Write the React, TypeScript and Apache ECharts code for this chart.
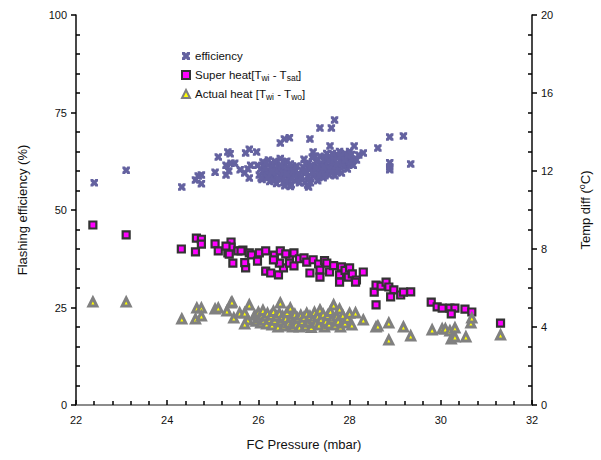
import React, { useEffect, useRef } from "react";
import * as echarts from "echarts";

const xTicks = { min: 22, max: 32, interval: 2 };
const leftTicks = { min: 0, max: 100, interval: 25 };
const rightTicks = { min: 0, max: 20, interval: 4 };

const efficiency: number[][] = [
  [22.4, 57.0], [23.1, 60.2],
  [24.32, 55.9], [24.62, 57.7], [24.68, 58.7], [24.75, 59.0], [24.75, 56.7], [25.05, 59.7], [25.12, 63.6],
  [25.33, 64.9], [25.38, 64.4], [25.29, 61.5], [25.29, 59.0], [25.35, 60.0], [25.4, 62.0], [25.48, 62.0],
  [25.6, 60.3], [25.7, 59.5], [25.77, 60.5], [25.72, 64.6], [25.8, 65.6], [25.96, 64.9], [25.83, 61.5],
  [25.8, 58.2], [25.98, 61.5],
  [26.02, 59.0], [26.05, 60.5], [26.08, 57.8], [26.1, 62.3], [26.12, 59.8], [26.15, 61.0], [26.18, 58.5],
  [26.2, 60.0], [26.22, 62.8], [26.25, 57.3], [26.27, 59.2], [26.3, 61.5], [26.32, 58.0], [26.35, 60.3],
  [26.38, 62.0], [26.4, 56.8], [26.42, 59.5], [26.45, 61.0], [26.48, 63.2], [26.5, 58.3], [26.52, 60.0],
  [26.55, 57.0], [26.57, 61.8], [26.6, 59.0], [26.62, 62.5], [26.65, 57.8], [26.68, 60.5], [26.7, 58.8],
  [26.72, 56.5], [26.75, 61.2], [26.78, 59.5], [26.8, 57.5], [26.82, 60.2], [26.85, 58.0],
  [26.06, 58.2], [26.14, 60.8], [26.24, 59.0], [26.28, 61.0], [26.34, 57.5], [26.36, 62.5], [26.44, 58.0],
  [26.46, 60.5], [26.54, 59.5], [26.56, 62.3], [26.6, 57.3], [26.64, 60.8], [26.7, 61.8], [26.74, 58.0],
  [26.76, 60.0], [26.84, 61.3], [26.88, 59.3], [26.9, 57.0], [26.4, 60.0], [26.5, 61.5], [26.3, 59.8],
  [26.2, 58.3], [26.62, 59.2], [26.7, 56.0], [26.58, 56.2], [26.16, 62.0],
  [26.48, 67.2], [26.57, 68.2], [26.68, 68.5],
  [26.95, 58.5], [26.98, 61.0], [27.0, 63.0], [27.02, 57.0], [27.05, 59.8], [27.08, 56.4], [27.1, 62.0],
  [27.12, 60.3], [27.15, 58.0], [27.18, 63.5], [27.2, 64.9], [27.22, 61.0], [27.25, 59.0], [27.28, 62.5],
  [27.3, 57.5], [27.32, 60.5], [27.35, 63.8], [27.38, 59.5], [27.4, 61.8], [27.42, 58.3], [27.45, 62.8],
  [27.48, 60.0], [27.5, 64.5], [27.52, 61.2], [27.55, 59.0], [27.57, 66.4], [27.58, 63.0], [27.6, 60.8],
  [27.62, 62.0], [27.65, 64.0], [27.68, 58.8], [27.7, 61.5], [27.72, 63.5], [27.75, 60.2], [27.78, 65.0],
  [27.8, 62.5], [27.82, 59.5], [27.85, 63.8], [27.88, 61.0], [27.9, 64.5], [27.92, 62.0], [27.95, 60.5],
  [27.98, 63.2], [28.0, 65.0], [28.02, 61.8], [28.05, 63.0], [28.08, 61.5], [28.1, 66.4], [28.2, 64.1],
  [28.3, 64.6], [28.15, 62.8], [27.1, 55.9],
  [27.0, 60.0], [27.04, 61.8], [27.08, 58.5], [27.14, 57.0], [27.16, 61.5], [27.2, 59.5], [27.26, 60.8],
  [27.3, 62.8], [27.34, 58.8], [27.4, 60.2], [27.44, 61.0], [27.46, 63.5], [27.54, 62.5], [27.56, 60.5],
  [27.62, 64.5], [27.66, 62.8], [27.7, 60.2], [27.74, 62.0], [27.8, 63.8], [27.84, 61.8], [27.9, 62.8],
  [27.96, 64.0], [28.04, 64.2], [27.6, 59.5], [27.46, 58.8], [27.24, 63.8],
  [27.13, 68.2], [27.35, 71.0], [27.6, 71.0], [27.67, 73.1], [28.62, 65.9], [28.88, 68.7], [29.18, 69.0],
  [28.88, 62.1], [28.88, 61.0], [28.88, 60.3], [29.34, 61.8],
];

const superHeat: number[][] = [
  [22.37, 9.23], [23.1, 8.72], [24.31, 8.0], [24.64, 8.56], [24.75, 8.5], [24.75, 8.25], [24.62, 7.85],
  [25.05, 8.26], [25.12, 7.9], [25.33, 7.8], [25.4, 8.36], [25.4, 8.1], [25.29, 8.15], [25.44, 7.28],
  [25.55, 7.9], [25.66, 7.95], [25.72, 7.03], [25.8, 7.8], [25.85, 7.7], [25.98, 7.38], [26.02, 7.8],
  [26.16, 7.9], [26.16, 6.87], [26.27, 6.77], [26.44, 6.67], [26.35, 7.69], [26.48, 7.9], [26.55, 7.03],
  [26.46, 7.28], [26.68, 7.59], [26.68, 7.28], [26.78, 7.13], [26.78, 7.8], [26.6, 7.75], [26.9, 7.5],
  [27.0, 7.54], [27.06, 7.33], [27.13, 6.77], [27.2, 7.45], [27.32, 7.23], [27.35, 6.92], [27.35, 6.56],
  [27.45, 7.4], [27.5, 7.28], [27.56, 6.82], [27.65, 7.15], [27.78, 6.67], [27.78, 6.3], [27.82, 7.08],
  [27.9, 6.9], [28.0, 7.03], [27.97, 6.56], [28.06, 6.72], [28.15, 6.41], [28.3, 6.82], [28.13, 6.3],
  [28.54, 5.79], [28.58, 6.15], [28.69, 6.1], [28.8, 6.3], [28.86, 6.05], [28.97, 5.9], [28.9, 5.54],
  [29.12, 5.64], [29.18, 5.79], [29.34, 5.8], [28.58, 5.13], [29.79, 5.28], [29.92, 5.03], [30.03, 4.97],
  [30.2, 4.97], [30.31, 4.97], [30.23, 4.67], [30.53, 4.92], [30.68, 4.77], [31.31, 4.2],
  [25.36, 7.74], [25.62, 7.9], [26.33, 7.44], [25.7, 7.3],
];

const actualHeat: number[][] = [
  [22.37, 5.28], [23.1, 5.28], [24.32, 4.41], [24.62, 4.41], [24.65, 4.97], [24.75, 4.97], [24.75, 4.56],
  [25.05, 4.92], [25.12, 4.97], [25.31, 4.82], [25.4, 5.23], [25.42, 5.28], [25.46, 4.46], [25.59, 4.72],
  [25.7, 4.72], [25.8, 5.13], [25.77, 4.36], [25.7, 4.15],
  [25.92, 4.6], [25.95, 4.3], [26.0, 4.75], [26.03, 4.45], [26.05, 4.2], [26.08, 4.6], [26.1, 4.85],
  [26.12, 4.35], [26.15, 4.55], [26.18, 4.15], [26.2, 4.7], [26.25, 4.4], [26.28, 4.6], [26.3, 4.1],
  [26.33, 4.8], [26.36, 4.35], [26.4, 4.55], [26.43, 4.0], [26.46, 4.7], [26.48, 5.23], [26.5, 4.3],
  [26.53, 4.55], [26.56, 4.05], [26.6, 4.45], [26.63, 4.75], [26.66, 4.2], [26.7, 4.97], [26.72, 4.5],
  [26.75, 4.0], [26.78, 4.35], [26.8, 4.65], [26.83, 4.15], [26.86, 4.45], [26.9, 4.0], [26.93, 4.6],
  [26.96, 4.3], [27.0, 4.5], [27.03, 4.05], [27.06, 4.7], [27.1, 4.25], [27.13, 4.55], [27.16, 3.98],
  [27.2, 4.4], [27.23, 4.75], [27.26, 4.2], [27.3, 4.55], [27.35, 4.87], [27.33, 4.1], [27.38, 4.4],
  [27.42, 4.65], [27.45, 4.0], [27.48, 4.3], [27.52, 4.6], [27.55, 4.15], [27.58, 4.8], [27.62, 4.4],
  [27.65, 5.13], [27.68, 4.1], [27.72, 4.55], [27.75, 4.3], [27.78, 4.92], [27.8, 4.0], [27.85, 4.6],
  [27.9, 4.2], [27.95, 4.45], [28.0, 4.7], [28.05, 4.1], [28.13, 4.72], [28.3, 4.36],
  [28.58, 4.0], [28.62, 4.05], [28.86, 4.2], [28.86, 3.33], [29.18, 4.0], [29.34, 3.54], [29.81, 3.85],
  [30.03, 3.9], [30.1, 3.9], [30.2, 3.8], [30.31, 3.95], [30.23, 3.38], [30.31, 3.49], [30.55, 3.49],
  [30.66, 4.2], [30.68, 4.46], [31.31, 3.59],
];

const seriesNames = ["efficiency", "Super heat", "Actual heat"];
const legendLabels: Record<string, string> = {
  efficiency: "efficiency",
  "Super heat": "Super heat[T{sub|wi} - T{sub|sat}]",
  "Actual heat": "Actual heat [T{sub|wi} - T{sub|wo}]",
};

const xSymbol =
  "path://M0,0 L3.5,0 L5,2 L6.5,0 L10,0 L10,3 L8,5 L10,7 L10,10 L6.5,10 L5,8 L3.5,10 L0,10 L0,7 L2,5 L0,3 Z";

const FONT = "Liberation Sans, Arial, sans-serif";

export default function App() {
  const ref = useRef<HTMLDivElement>(null);
  useEffect(() => {
    if (!ref.current) return;
    const chart = echarts.init(ref.current, null, { renderer: "svg" });
    const axisLine = { show: true, lineStyle: { color: "#1a1a1a", width: 1.6 } };
    const tickStyle = { color: "#000", width: 1.5 };
    const labelStyle = { fontFamily: FONT, fontSize: 11, color: "#111", margin: 9 };
    chart.setOption({
      animation: false,
      textStyle: { fontFamily: FONT },
      grid: { left: 76, right: 63, top: 15, bottom: 55 },
      legend: {
        orient: "vertical", left: 176, top: 44, itemWidth: 8, itemHeight: 8, itemGap: 5,
        data: seriesNames,
        formatter: (n: string) => legendLabels[n],
        textStyle: {
          fontFamily: FONT, fontSize: 11.5, color: "#111", lineHeight: 14,
          rich: { sub: { fontFamily: FONT, fontSize: 8.5, lineHeight: 8, verticalAlign: "bottom", color: "#111" } },
        },
      },
      xAxis: [
        {
          type: "value", ...xTicks, position: "bottom",
          name: "FC Pressure (mbar)", nameLocation: "middle", nameGap: 33,
          nameTextStyle: { fontFamily: FONT, fontSize: 13, color: "#111" },
          axisLine, splitLine: { show: false },
          axisTick: { show: true, inside: true, length: 5, lineStyle: tickStyle },
          minorTick: { show: true, splitNumber: 5, length: 4, lineStyle: tickStyle },
          axisLabel: labelStyle,
        },
        {
          type: "value", ...xTicks, position: "top",
          axisLine: { show: true, lineStyle: { color: "#8c8c8c", width: 2 } },
          axisTick: { show: false }, axisLabel: { show: false }, splitLine: { show: false },
        },
      ],
      yAxis: [
        {
          type: "value", ...leftTicks, position: "left",
          name: "Flashing efficiency (%)", nameLocation: "middle", nameGap: 47, nameRotate: 90,
          nameTextStyle: { fontFamily: FONT, fontSize: 13, color: "#111" },
          axisLine, splitLine: { show: false },
          axisTick: { show: true, length: 5, lineStyle: tickStyle },
          minorTick: { show: true, splitNumber: 5, length: -4, lineStyle: tickStyle },
          axisLabel: labelStyle,
        },
        {
          type: "value", ...rightTicks, position: "right",
          name: "Temp diff ({sup|o}C)", nameLocation: "middle", nameGap: 45, nameRotate: 90,
          nameTextStyle: {
            fontFamily: FONT, fontSize: 13, color: "#111", lineHeight: 16,
            rich: { sup: { fontFamily: FONT, fontSize: 9, lineHeight: 9, verticalAlign: "top", color: "#111" } },
          },
          axisLine, splitLine: { show: false },
          axisTick: { show: true, length: 5, lineStyle: tickStyle },
          minorTick: { show: true, splitNumber: 4, length: -4, lineStyle: tickStyle },
          axisLabel: labelStyle,
        },
      ],
      series: [
        {
          name: "efficiency", type: "scatter", yAxisIndex: 0, data: efficiency,
          symbol: xSymbol, symbolSize: 7.5,
          itemStyle: { color: "#6462a0", opacity: 1 },
        },
        {
          name: "Super heat", type: "scatter", yAxisIndex: 1, data: superHeat,
          symbol: "rect", symbolSize: 7,
          itemStyle: { color: "#ff00ff", borderColor: "#333", borderWidth: 2.2, opacity: 1 },
        },
        {
          name: "Actual heat", type: "scatter", yAxisIndex: 1, data: actualHeat,
          symbol: "triangle", symbolSize: 8,
          itemStyle: { color: "#ffff00", borderColor: "#808080", borderWidth: 3, opacity: 1 },
        },
      ],
    });
    return () => chart.dispose();
  }, []);
  return <div ref={ref} style={{ width: 601, height: 460, position: "absolute", left: 0, top: 0 }} />;
}
